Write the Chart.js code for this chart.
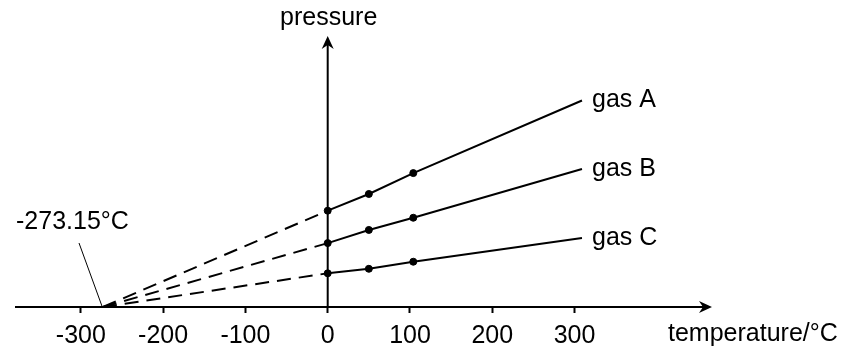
<!DOCTYPE html>
<html>
<head>
<meta charset="utf-8">
<script src="https://cdn.jsdelivr.net/npm/chart.js@4"></script>
<style>
  body { margin: 0; background: #fff; }
</style>
</head>
<body>
<canvas id="canvas" width="850" height="354"></canvas>
<script>
// temperatures (°C) where each gas line is marked
const temps = [-273.15, 0, 50, 104, 309];
// pressure (arbitrary units)
const gasA = [0, 3.0, 3.52, 4.17, 6.43];
const gasB = [0, 1.99, 2.40, 2.78, 4.30];
const gasC = [0, 1.05, 1.19, 1.41, 2.15];
const dots = [0, 1, 1, 1, 0];
const tickValues = [-300, -200, -100, 0, 100, 200, 300];
const gasNames = ['gas A', 'gas B', 'gas C'];

const FONT = '"Liberation Sans", Arial, sans-serif';
const FS = 25;

function makeSet(name, vals) {
  return {
    label: name,
    data: temps.map((t, i) => ({ x: t, y: vals[i] })),
    borderColor: '#000',
    backgroundColor: '#000',
    borderWidth: 2,
    pointRadius: dots.map(d => d ? 3.5 : 0),
    pointBorderWidth: 1,
    tension: 0,
    segment: {
      borderDash: ctx => ctx.p1.parsed.x <= 0 ? [14, 8] : undefined
    }
  };
}

function arrow(ctx, x, y, dir) {
  ctx.save();
  ctx.translate(x, y);
  if (dir === 'up') ctx.rotate(-Math.PI / 2);
  ctx.beginPath();
  ctx.moveTo(0, 0);
  ctx.lineTo(-13, -6);
  ctx.lineTo(-9, 0);
  ctx.lineTo(-13, 6);
  ctx.closePath();
  ctx.fill();
  ctx.restore();
}

const axesPlugin = {
  id: 'axesPlugin',
  afterDraw(chart) {
    const ctx = chart.ctx;
    const xs = chart.scales.x, ys = chart.scales.y;
    const a = chart.chartArea;
    const x0 = xs.getPixelForValue(0);
    const y0 = ys.getPixelForValue(0);
    ctx.save();
    ctx.strokeStyle = '#000';
    ctx.fillStyle = '#000';
    ctx.lineWidth = 2;
    // x axis
    ctx.beginPath();
    ctx.moveTo(a.left, y0);
    ctx.lineTo(a.right - 4, y0);
    ctx.stroke();
    arrow(ctx, a.right, y0, 'right');
    // y axis
    ctx.beginPath();
    ctx.moveTo(x0, y0);
    ctx.lineTo(x0, a.top + 4);
    ctx.stroke();
    arrow(ctx, x0, a.top, 'up');

    ctx.font = FS + 'px ' + FONT;
    ctx.textBaseline = 'alphabetic';
    ctx.textAlign = 'center';
    ctx.fillText('pressure', x0 + 1, 25);
    ctx.textAlign = 'left';
    ctx.fillText('temperature/\u00B0C', 668, 341);
    ctx.fillText('-273.15\u00B0C', 16, 229);

    // leader to absolute zero
    ctx.lineWidth = 1;
    ctx.beginPath();
    ctx.moveTo(79, 243);
    ctx.lineTo(xs.getPixelForValue(temps[0]) - 1, y0 - 1);
    ctx.stroke();

    // gas labels at the line ends
    ctx.textBaseline = 'middle';
    chart.data.datasets.forEach((ds, i) => {
      const last = ds.data[ds.data.length - 1];
      ctx.fillText(gasNames[i], xs.getPixelForValue(last.x) + 10, ys.getPixelForValue(last.y));
    });
    ctx.restore();
  }
};

const config = {
  type: 'line',
  data: {
    datasets: [makeSet('gas A', gasA), makeSet('gas B', gasB), makeSet('gas C', gasC)]
  },
  options: {
    responsive: false,
    animation: false,
    layout: { padding: { left: 15, right: 138, top: 36, bottom: 0 } },
    plugins: { legend: { display: false }, tooltip: { enabled: false } },
    scales: {
      x: {
        type: 'linear',
        min: -380,
        max: 467,
        afterBuildTicks: s => { s.ticks = tickValues.map(v => ({ value: v })); },
        afterFit: s => { s.height = 47; },
        border: { display: false },
        grid: {
          drawOnChartArea: false,
          drawTicks: true,
          tickLength: 6,
          tickWidth: 2,
          tickColor: '#000'
        },
        ticks: {
          color: '#000',
          padding: 8,
          maxRotation: 0,
          font: { family: FONT, size: FS }
        }
      },
      y: {
        display: false,
        min: 0,
        max: 8.44
      }
    }
  },
  plugins: [axesPlugin]
};

const canvas = document.getElementById('canvas');
const chart = new Chart(canvas, config);
</script>
</body>
</html>
